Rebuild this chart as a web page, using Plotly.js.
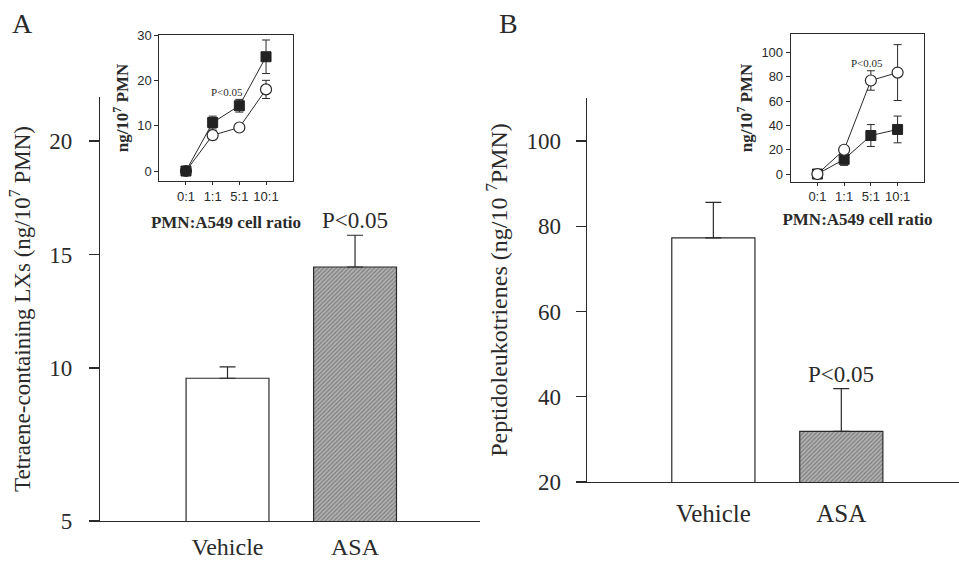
<!DOCTYPE html>
<html>
<head>
<meta charset="utf-8">
<script src="https://cdn.plot.ly/plotly-3.0.1.min.js"></script>
<style>html,body{margin:0;padding:0;background:#fff;}#chart{width:959px;height:564px;}</style>
</head>
<body>
<div id="chart"></div>
<script>
// ---------- data ----------
const groups = ['Vehicle', 'ASA'];
// Panel A: tetraene-containing LXs (ng/10^7 PMN)
const lxMean = [9.55, 14.45];
const lxErr = [0.5, 1.4];
// Panel B: peptidoleukotrienes (ng/10^7 PMN)
const ltMean = [77.3, 31.9];
const ltErr = [8.3, 10.0];
// Insets: PMN:A549 cell ratio
const ratios = ['0:1', '1:1', '5:1', '10:1'];
const insetA_ASA = [0, 10.7, 14.4, 25.2];
const insetA_ASA_err = [0, 1.4, 1.4, 3.7];
const insetA_Veh = [0, 7.9, 9.6, 18.0];
const insetA_Veh_err = [0, 1.0, 0.5, 2.0];
const insetB_Veh = [0, 20, 77, 83.5];
const insetB_Veh_err = [0, 0, 8, 23];
const insetB_ASA = [0, 12.1, 31.7, 36.7];
const insetB_ASA_err = [0, 5, 9, 11];
// tick labels
const tickA = ['5', '10', '15', '20'];
const tickB = ['20', '40', '60', '80', '100'];

// ---------- styling ----------
const ink = '#2a2a2a';
const serif = 'Liberation Serif';
const sans = 'Liberation Sans';
const W = 959, H = 564;
const px = v => v / W;
const py = v => 1 - v / H;

function barTrace(xs, ys, errs, xa, ya) {
  return {
    type: 'bar', x: xs, y: ys, xaxis: xa, yaxis: ya, width: 0.65,
    marker: {
      color: ['#ffffff', '#b0b0b0'],
      line: {color: ink, width: 1.2},
      pattern: {shape: ['', '/'], fillmode: 'overlay', fgcolor: '#666666', size: 3, solidity: 0.35}
    },
    error_y: {type: 'data', symmetric: false, array: errs, arrayminus: [0, 0], color: ink, thickness: 1.2, width: 8},
    showlegend: false, hoverinfo: 'skip'
  };
}
function lineTrace(xs, ys, errs, xa, ya, filled, name) {
  return {
    type: 'scatter', mode: 'lines+markers', x: xs, y: ys, xaxis: xa, yaxis: ya, name: name,
    line: {color: ink, width: 1},
    marker: filled ? {symbol: 'square', size: 10, color: '#222', line: {color: '#222', width: 1}}
                   : {symbol: 'circle', size: 11, color: '#fff', line: {color: ink, width: 1.2}},
    error_y: {type: 'data', array: errs, color: ink, thickness: 1, width: 4},
    showlegend: false, hoverinfo: 'skip'
  };
}

const traces = [
  barTrace(groups, lxMean, lxErr, 'x', 'y'),
  barTrace(groups, ltMean, ltErr, 'x2', 'y2'),
  lineTrace(ratios, insetA_Veh, insetA_Veh_err, 'x3', 'y3', false, 'Vehicle'),
  lineTrace(ratios, insetA_ASA, insetA_ASA_err, 'x3', 'y3', true, 'ASA'),
  lineTrace(ratios, insetB_ASA, insetB_ASA_err, 'x4', 'y4', true, 'ASA'),
  lineTrace(ratios, insetB_Veh, insetB_Veh_err, 'x4', 'y4', false, 'Vehicle')
];

function mainY(domain, range, tv, tt, title, tsize, stand) {
  return {
    domain: domain, range: range, tickmode: 'array', tickvals: tv, ticktext: tt,
    showline: true, linecolor: ink, linewidth: 1.2, ticks: 'outside', ticklen: 10, tickcolor: ink, tickwidth: 1.2,
    showgrid: false, zeroline: false, ticklabelstandoff: stand,
    tickfont: {family: serif, size: 23, color: ink},
    title: {text: title, font: {family: serif, size: tsize, color: ink}, standoff: 12}
  };
}
function mainX(domain, range, stand, fsize) {
  return {
    domain: domain, range: range, type: 'category',
    showline: true, linecolor: ink, linewidth: 1.2, ticks: '', showgrid: false, zeroline: false,
    ticklabelstandoff: stand,
    tickfont: {family: serif, size: fsize, color: ink}
  };
}
function insetY(domain, range, tv) {
  return {
    domain: domain, range: range, tickmode: 'array', tickvals: tv,
    showline: true, mirror: true, linecolor: ink, linewidth: 1, ticks: 'outside', ticklen: 4, tickcolor: ink,
    showgrid: false, zeroline: false,
    tickfont: {family: sans, size: 13, color: ink},
    title: {text: '<b>ng/10<sup>7</sup> PMN</b>', font: {family: serif, size: 17, color: ink}, standoff: 4}
  };
}
function insetX(domain, stand) {
  return {
    domain: domain, range: [-1, 4], type: 'category',
    showline: true, mirror: true, linecolor: ink, linewidth: 1, ticks: 'outside', ticklen: 3, tickcolor: ink,
    showgrid: false, zeroline: false,
    tickfont: {family: sans, size: 13, color: ink},
    title: {text: '<b>PMN:A549 cell ratio</b>', font: {family: serif, size: 17, color: ink}, standoff: stand}
  };
}

const layout = {
  width: W, height: H, margin: {l: 0, r: 0, t: 0, b: 0},
  paper_bgcolor: '#ffffff', plot_bgcolor: 'rgba(0,0,0,0)', showlegend: false,
  xaxis: Object.assign(mainX([px(100), px(480)], [-1, 1.98], 4, 24), {anchor: 'y'}),
  yaxis: Object.assign(mainY([py(521), py(97)], [3.26, 21.94], [3.26, 10, 15, 20], tickA,
    'Tetraene-containing LXs (ng/10<sup>7</sup> PMN)', 23, 12), {anchor: 'x'}),
  xaxis2: Object.assign(mainX([px(586.7), 1], [-0.99, 1.92], 9, 25), {anchor: 'y2'}),
  yaxis2: Object.assign(mainY([py(482), py(98)], [20, 110.1], [20, 40, 60, 80, 100], tickB,
    'Peptidoleukotrienes (ng/10 <sup>7</sup>PMN)', 24, 10), {anchor: 'x2'}),
  xaxis3: Object.assign(insetX([px(159.3), px(292.7)], 13), {anchor: 'y3'}),
  yaxis3: Object.assign(insetY([py(181), py(35)], [-2.2, 30], [0, 10, 20, 30]), {anchor: 'x3'}),
  xaxis4: Object.assign(insetX([px(790.7), px(924.3)], 9), {anchor: 'y4'}),
  yaxis4: Object.assign(insetY([py(181.7), py(34.3)], [-6.3, 115], [0, 20, 40, 60, 80, 100]), {anchor: 'x4'}),
  annotations: [
    {text: 'A', xref: 'paper', yref: 'paper', x: px(10), y: py(6), xanchor: 'left', yanchor: 'top', showarrow: false,
     font: {family: serif, size: 28, color: ink}},
    {text: 'B', xref: 'paper', yref: 'paper', x: px(497), y: py(6), xanchor: 'left', yanchor: 'top', showarrow: false,
     font: {family: serif, size: 28, color: ink}},
    {text: 'P<0.05', xref: 'x', yref: 'y', x: 'ASA', y: lxMean[1] + lxErr[1], yanchor: 'bottom', yshift: 0, showarrow: false,
     font: {family: serif, size: 23, color: ink}},
    {text: 'P<0.05', xref: 'x2', yref: 'y2', x: 'ASA', y: ltMean[1] + ltErr[1], yanchor: 'bottom', yshift: 0, showarrow: false,
     font: {family: serif, size: 23, color: ink}},
    {text: 'P<0.05', xref: 'x3', yref: 'y3', x: 1.53, y: 17.4, showarrow: false,
     font: {family: serif, size: 11, color: ink}},
    {text: 'P<0.05', xref: 'x4', yref: 'y4', x: 1.85, y: 91.6, showarrow: false,
     font: {family: serif, size: 11, color: ink}}
  ]
};

Plotly.newPlot('chart', traces, layout, {displayModeBar: false, staticPlot: true});
</script>
</body>
</html>
